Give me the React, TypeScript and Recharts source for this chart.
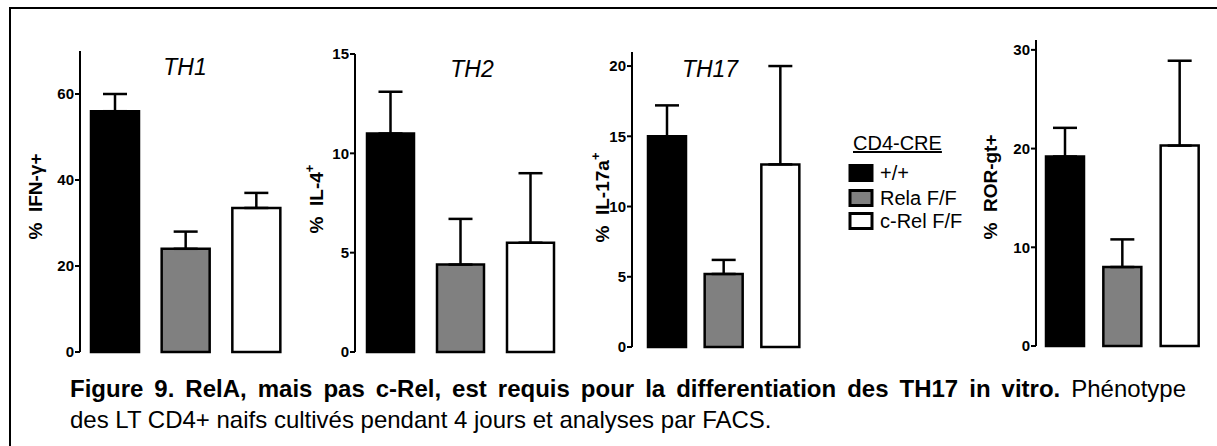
import { BarChart, Bar, XAxis, YAxis, Cell, ErrorBar } from 'recharts'

// genotypes (CD4-CRE)
const GROUPS = ['+/+', 'Rela F/F', 'c-Rel F/F']
const FILLS = ['#000000', '#808080', '#ffffff']

// % positive cells, mean and SEM
const TH1_MEAN = [56, 24, 33.5]
const TH1_SEM = [4, 4, 3.5]
const TH2_MEAN = [11, 4.4, 5.5]
const TH2_SEM = [2.1, 2.3, 3.5]
const TH17_MEAN = [15, 5.2, 13]
const TH17_SEM = [2.2, 1.0, 7.0]
const ROR_MEAN = [19.2, 8.0, 20.3]
const ROR_SEM = [2.9, 2.8, 8.6]

const TH1_TICKS = [0, 20, 40, 60]
const TH2_TICKS = [0, 5, 10, 15]
const TH17_TICKS = [0, 5, 10, 15, 20]
const ROR_TICKS = [0, 10, 20, 30]

const FONT = '"Liberation Sans", Arial, Helvetica, sans-serif'
const SP = '\u00A0\u00A0'

function AxisTitle(props: any) {
  const { viewBox, cx, text, sup } = props
  const cy = viewBox.y + viewBox.height / 2 + (props.shift || 0)
  return (
    <text
      x={cx}
      y={cy}
      transform={`rotate(-90 ${cx} ${cy})`}
      textAnchor="middle"
      dominantBaseline="central"
      fontFamily={FONT}
      fontWeight="bold"
      fontSize={19}
      fill="#000"
    >
      {text}
      {sup && (
        <tspan dy={-7} fontSize={13}>
          {sup}
        </tspan>
      )}
    </text>
  )
}

function Panel(props: any) {
  const { left, axisX, top, bottom, right, max, ticks, means, sems, barSize, padLeft = 0, label, sup, labelX, shift } = props
  const data = GROUPS.map((g, i) => ({ group: g, value: means[i], err: [0, sems[i]] }))
  const width = right - left + 4

  return (
    <div style={{ position: 'absolute', left, top: 0 }}>
      <BarChart
        width={width}
        height={446}
        data={data}
        margin={{ top, right: 4, bottom: 446 - bottom, left: 0 }}
      >
        <XAxis
          dataKey="group"
          tick={false}
          tickLine={false}
          height={0}
          axisLine={{ stroke: '#000', strokeWidth: 2 }}
          padding={{ left: padLeft, right: 0 }}
        />
        <YAxis
          type="number"
          domain={[0, max]}
          ticks={ticks}
          interval={0}
          width={axisX - left}
          tickSize={5}
          tickMargin={1}
          axisLine={{ stroke: '#000', strokeWidth: 2 }}
          tickLine={{ stroke: '#000', strokeWidth: 2 }}
          tick={{ fill: '#000', fontSize: 15, fontWeight: 'bold', fontFamily: FONT }}
          label={(p: any) => <AxisTitle {...p} cx={labelX - left} text={label} sup={sup} shift={shift} />}
        />
        <Bar dataKey="value" barSize={barSize} stroke="#000" strokeWidth={2.5} isAnimationActive={false}>
          {data.map((d, i) => (
            <Cell key={d.group} fill={FILLS[i]} />
          ))}
          <ErrorBar dataKey="err" width={12} stroke="#000" strokeWidth={2.5} />
        </Bar>
      </BarChart>
    </div>
  )
}

export default function App() {
  return (
    <div style={{ position: 'absolute', left: 0, top: 0, width: 1217, height: 446, background: '#fff', overflow: 'hidden', fontFamily: FONT }}>
      {/* frame */}
      <div style={{ position: 'absolute', left: 9, top: 7, width: 1220, height: 450, borderTop: '2px solid #000', borderLeft: '2px solid #000' }} />

      <Panel left={20} axisX={80} top={51} bottom={352} right={292} max={70} ticks={TH1_TICKS}
        means={TH1_MEAN} sems={TH1_SEM} barSize={48} label={`%${SP}IFN-γ+`} labelX={35} shift={-5} />
      <Panel left={300} axisX={355} top={54} bottom={352} right={565} max={15} ticks={TH2_TICKS}
        means={TH2_MEAN} sems={TH2_SEM} barSize={47} label={`%${SP}IL-4`} sup="+" labelX={316} shift={-4} />
      <Panel left={580} axisX={632} top={52} bottom={347} right={809} max={21} ticks={TH17_TICKS}
        means={TH17_MEAN} sems={TH17_SEM} barSize={38} padLeft={7} label={`%${SP}IL-17a`} sup="+" labelX={602} shift={-2} />
      <Panel left={960} axisX={1036} top={40} bottom={346} right={1208} max={31} ticks={ROR_TICKS}
        means={ROR_MEAN} sems={ROR_SEM} barSize={38} label={`%${SP}ROR-gt+`} labelX={990} shift={-6} />

      <svg width={1217} height={446} style={{ position: 'absolute', left: 0, top: 0, pointerEvents: 'none' }}>
        <g fontFamily={FONT} fill="#000">
          <text x={185} y={75} fontSize={23} fontStyle="italic" textAnchor="middle">TH1</text>
          <text x={472} y={77} fontSize={23} fontStyle="italic" textAnchor="middle">TH2</text>
          <text x={710} y={77} fontSize={23} fontStyle="italic" textAnchor="middle">TH17</text>

          <text x={853} y={150} fontSize={20} textDecoration="underline">CD4-CRE</text>
          {GROUPS.map((g, i) => {
            const cy = [173, 198, 221][i]
            return (
              <g key={g}>
                <rect x={850} y={cy - 7.5} width={22} height={15} fill={FILLS[i]} stroke="#000" strokeWidth={3} />
                <text x={880} y={cy + 7} fontSize={20}>{g}</text>
              </g>
            )
          })}
        </g>
      </svg>

      {/* caption: first line justified */}
      <div style={{ position: 'absolute', left: 70, top: 377, width: 1116, fontSize: 24, lineHeight: '24px', textAlign: 'justify', textAlignLast: 'justify', color: '#000' }}>
        <b>Figure 9. RelA, mais pas c-Rel, est requis pour la differentiation des TH17 in vitro.</b> Phénotype
      </div>
      <div style={{ position: 'absolute', left: 70, top: 408, fontSize: 24, lineHeight: '24px', whiteSpace: 'nowrap', color: '#000' }}>
        des LT CD4+ naifs cultivés pendant 4 jours et analyses par FACS.
      </div>
    </div>
  )
}
